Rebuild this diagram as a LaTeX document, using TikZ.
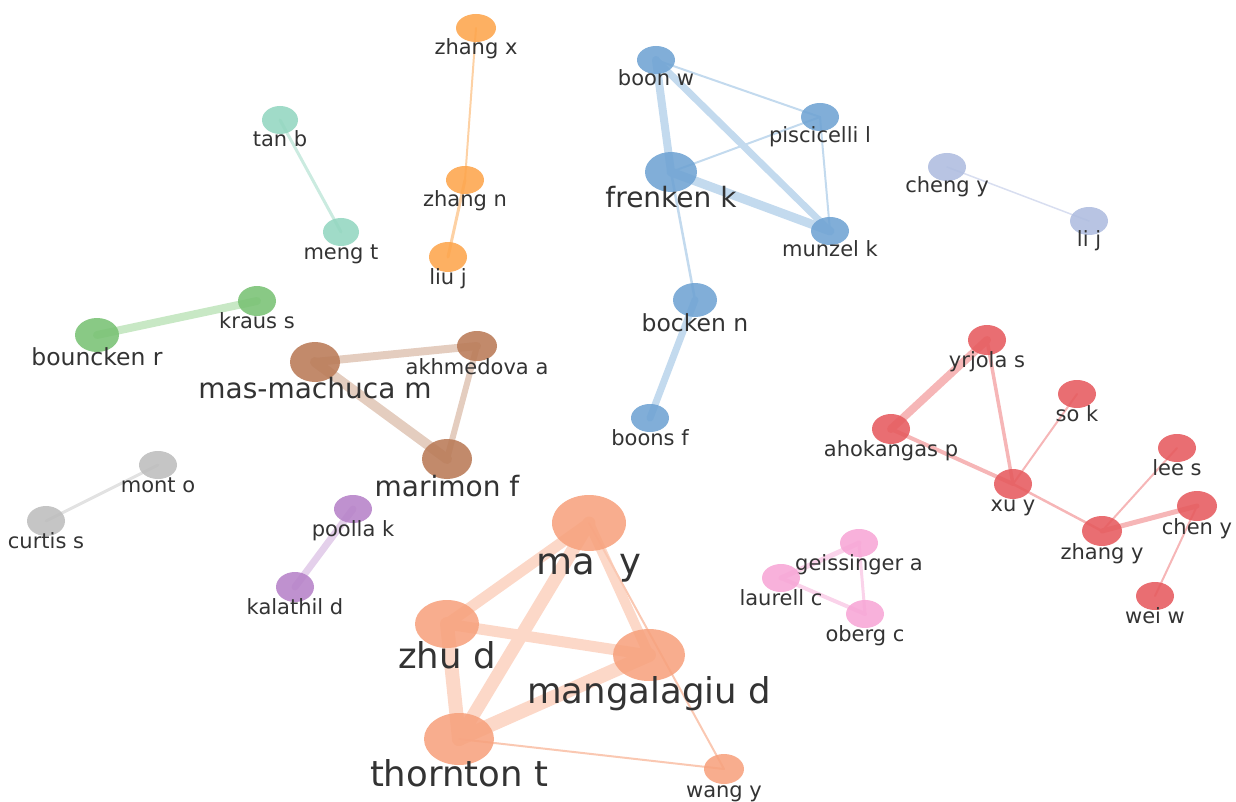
\documentclass[tikz,border=0pt]{standalone}
\usepackage{fontspec}
\setmainfont{DejaVu Sans}
\usetikzlibrary{shapes.geometric}
\pgfdeclarelayer{background}
\pgfsetlayers{background,main}
\definecolor{txt}{HTML}{333333}
\definecolor{cSal}{HTML}{F7A27E}\definecolor{eSal}{HTML}{FCD8C8}
\definecolor{cBlu}{HTML}{6FA3D3}\definecolor{eBlu}{HTML}{C3DAEE}
\definecolor{cOra}{HTML}{FDA54C}\definecolor{eOra}{HTML}{FDD1A4}
\definecolor{cTea}{HTML}{93D6C0}\definecolor{eTea}{HTML}{CBEBE0}
\definecolor{cLav}{HTML}{AEBCDF}\definecolor{eLav}{HTML}{D8DEF0}
\definecolor{cGre}{HTML}{79C274}\definecolor{eGre}{HTML}{C8E8C5}
\definecolor{cBro}{HTML}{B97A57}\definecolor{eBro}{HTML}{E4CDBF}
\definecolor{cGra}{HTML}{BDBDBD}\definecolor{eGra}{HTML}{E2E2E2}
\definecolor{cPur}{HTML}{B682C8}\definecolor{ePur}{HTML}{E4D0EB}
\definecolor{cRed}{HTML}{E65A5E}\definecolor{eRed}{HTML}{F6B6B7}
\definecolor{cPin}{HTML}{F7A6D6}\definecolor{ePin}{HTML}{FAD3EA}
\newcommand\fsS{\fontsize{21}{24}\selectfont}
\newcommand\fsMS{\fontsize{23.5}{26}\selectfont}
\newcommand\fsM{\fontsize{28}{30}\selectfont}
\newcommand\fsL{\fontsize{35.5}{38}\selectfont}
\newcommand\fsXL{\fontsize{37}{40}\selectfont}
\newcommand\gnode[9]{%
  \node[nd, fill=#6, minimum width={2*#4pt}, minimum height={2*#5pt}] (#1) at (#2,#3) {};
  \node[lbl, font=#7] (#1-l) at ([yshift=-#8pt]#1.center) {#9};}
\tikzset{
  nd/.style={ellipse, inner sep=0pt, draw=none, fill opacity=0.88},
  lbl/.style={anchor=base, text=txt, inner sep=0pt},
  ed/.style={line cap=round}
}
\begin{document}
\begin{tikzpicture}[x=1pt,y=-1pt]
\useasboundingbox (0,0) rectangle (1236,802);
% orange
\gnode{zhangx}{476}{28}{20}{14}{cOra}{\fsS}{27}{zhang x}
\gnode{zhangn}{465}{180}{19}{14}{cOra}{\fsS}{27}{zhang n}
\gnode{liuj}{448}{257}{19}{15}{cOra}{\fsS}{27}{liu j}
% teal
\gnode{tanb}{280}{120}{18}{14}{cTea}{\fsS}{27}{tan b}
\gnode{mengt}{341}{232}{18}{14}{cTea}{\fsS}{27}{meng t}
% blue
\gnode{boonw}{656}{60}{19}{14}{cBlu}{\fsS}{26}{boon w}
\gnode{pisc}{820}{117}{19}{14}{cBlu}{\fsS}{26}{piscicelli l}
\gnode{frenken}{671}{172}{26}{20}{cBlu}{\fsM}{36}{frenken k}
\gnode{munzel}{830}{231}{19}{14}{cBlu}{\fsS}{26}{munzel k}
\gnode{bocken}{695}{300}{22}{17}{cBlu}{\fsMS}{31}{bocken n}
\gnode{boonsf}{650}{418}{19}{14}{cBlu}{\fsS}{27}{boons f}
% lavender
\gnode{chengy}{947}{167}{19}{14}{cLav}{\fsS}{26}{cheng y}
\gnode{lij}{1089}{221}{19}{14}{cLav}{\fsS}{26}{li j}
% green
\gnode{bouncken}{97}{335}{22}{17}{cGre}{\fsMS}{30}{bouncken r}
\gnode{kraus}{257}{301}{19}{15}{cGre}{\fsS}{27}{kraus s}
% brown
\gnode{mas}{315}{362}{25}{20}{cBro}{\fsM}{36}{mas-machuca m}
\gnode{akh}{477}{346}{20}{15}{cBro}{\fsS}{28}{akhmedova a}
\gnode{marimon}{447}{459}{25}{20}{cBro}{\fsM}{37}{marimon f}
% gray
\gnode{monto}{158}{465}{19}{14}{cGra}{\fsS}{27}{mont o}
\gnode{curtis}{46}{521}{19}{15}{cGra}{\fsS}{27}{curtis s}
% purple
\gnode{poolla}{353}{509}{19}{14}{cPur}{\fsS}{27}{poolla k}
\gnode{kalathil}{295}{587}{19}{15}{cPur}{\fsS}{27}{kalathil d}
% salmon
\gnode{may}{589}{523}{37}{28}{cSal}{\fsXL}{51}{ma\ \ y}
\gnode{zhud}{447}{624}{32}{24}{cSal}{\fsL}{44}{zhu d}
\gnode{mang}{649}{655}{36}{26}{cSal}{\fsL}{48}{mangalagiu d}
\gnode{thornton}{459}{739}{35}{26}{cSal}{\fsL}{47}{thornton t}
\gnode{wangy}{724}{769}{20}{15}{cSal}{\fsS}{28}{wang y}
% red
\gnode{yrjola}{987}{340}{19}{15}{cRed}{\fsS}{27}{yrjola s}
\gnode{sok}{1077}{394}{19}{14}{cRed}{\fsS}{27}{so k}
\gnode{ahok}{891}{429}{19}{15}{cRed}{\fsS}{27}{ahokangas p}
\gnode{xuy}{1013}{484}{19}{15}{cRed}{\fsS}{27}{xu y}
\gnode{lees}{1177}{448}{19}{14}{cRed}{\fsS}{27}{lee s}
\gnode{cheny}{1197}{506}{20}{15}{cRed}{\fsS}{28}{chen y}
\gnode{zhangy}{1102}{531}{20}{15}{cRed}{\fsS}{28}{zhang y}
\gnode{weiw}{1155}{596}{19}{14}{cRed}{\fsS}{27}{wei w}
% pink
\gnode{geiss}{859}{543}{19}{14}{cPin}{\fsS}{27}{geissinger a}
\gnode{laurell}{781}{578}{19}{14}{cPin}{\fsS}{27}{laurell c}
\gnode{oberg}{865}{614}{19}{14}{cPin}{\fsS}{27}{oberg c}

\begin{pgfonlayer}{background}
\draw[ed, eOra, line width=2pt] (zhangx.center) -- (zhangn.center);
\draw[ed, eOra, line width=3pt] (zhangn.center) -- (liuj.center);
\draw[ed, eTea, line width=3pt] (tanb.center) -- (mengt.center);
\draw[ed, eBlu, line width=8pt] (boonw.center) -- (frenken.center);
\draw[ed, eBlu, line width=7pt] (boonw.center) -- (munzel.center);
\draw[ed, eBlu, line width=9pt] (frenken.center) -- (munzel.center);
\draw[ed, eBlu, line width=2pt] (boonw.center) -- (pisc.center);
\draw[ed, eBlu, line width=2pt] (frenken.center) -- (pisc.center);
\draw[ed, eBlu, line width=2pt] (pisc.center) -- (munzel.center);
\draw[ed, eBlu, line width=2.5pt] (frenken.center) -- (bocken.center);
\draw[ed, eBlu, line width=7pt] (bocken.center) -- (boonsf.center);
\draw[ed, eLav, line width=1.5pt] (chengy.center) -- (lij.center);
\draw[ed, eGre, line width=8pt] (bouncken.center) -- (kraus.center);
\draw[ed, eBro, line width=8pt] (mas.center) -- (akh.center);
\draw[ed, eBro, line width=10pt] (mas.center) -- (marimon.center);
\draw[ed, eBro, line width=6pt] (akh.center) -- (marimon.center);
\draw[ed, eGra, line width=3pt] (monto.center) -- (curtis.center);
\draw[ed, ePur, line width=7pt] (poolla.center) -- (kalathil.center);
\draw[ed, eSal, line width=11pt] (may.center) -- (zhud.center);
\draw[ed, eSal, line width=13pt] (may.center) -- (thornton.center);
\draw[ed, eSal, line width=10pt] (may.center) -- (mang.center);
\draw[ed, eSal, line width=11pt] (zhud.center) -- (mang.center);
\draw[ed, eSal, line width=14pt] (zhud.center) -- (thornton.center);
\draw[ed, eSal, line width=14pt] (mang.center) -- (thornton.center);
\draw[ed, eSal!70!cSal, line width=2pt] (thornton.center) -- (wangy.center);
\draw[ed, eSal!70!cSal, line width=2pt] (may.center) -- (wangy.center);
\draw[ed, eRed, line width=8pt] (yrjola.center) -- (ahok.center);
\draw[ed, eRed, line width=3.5pt] (yrjola.center) -- (xuy.center);
\draw[ed, eRed, line width=4pt] (ahok.center) -- (xuy.center);
\draw[ed, eRed, line width=2pt] (sok.center) -- (xuy.center);
\draw[ed, eRed, line width=2.5pt] (xuy.center) -- (zhangy.center);
\draw[ed, eRed, line width=2pt] (zhangy.center) -- (lees.center);
\draw[ed, eRed, line width=5pt] (zhangy.center) -- (cheny.center);
\draw[ed, eRed, line width=2pt] (cheny.center) -- (weiw.center);
\draw[ed, ePin, line width=5pt] (geiss.center) -- (laurell.center);
\draw[ed, ePin, line width=4pt] (laurell.center) -- (oberg.center);
\draw[ed, ePin, line width=3pt] (geiss.center) -- (oberg.center);
\end{pgfonlayer}
\end{tikzpicture}
\end{document}
